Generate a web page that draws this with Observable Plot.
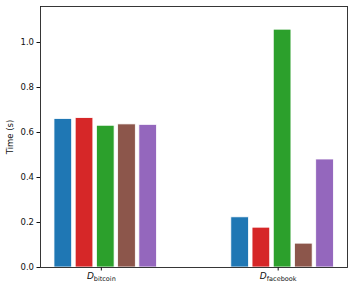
<!DOCTYPE html>
<html>
<head>
<meta charset="utf-8">
<script src="https://cdn.jsdelivr.net/npm/d3@7"></script>
<script src="https://cdn.jsdelivr.net/npm/@observablehq/plot@0.6"></script>
<style>
  html, body { margin: 0; padding: 0; background: white; }
</style>
</head>
<body>
<div id="chart"></div>
<script>
// Data
const datasets = ["bitcoin", "facebook"];
const series = ["S1", "S2", "S3", "S4", "S5"];
const bitcoinTimes = [0.660, 0.664, 0.630, 0.636, 0.634];
const facebookTimes = [0.223, 0.177, 1.057, 0.106, 0.480];
const yTicks = [0.0, 0.2, 0.4, 0.6, 0.8, 1.0];

const palette = ["#1f77b4", "#d62728", "#2ca02c", "#8c564b", "#9467bd"];
const barWidth = 0.1, barStep = 0.12, barShift = 0.025;

const valuesByDataset = [bitcoinTimes, facebookTimes];
const rows = [];
datasets.forEach((ds, g) => {
  series.forEach((s, i) => {
    const c = g + (i - 2) * barStep + barShift;
    rows.push({dataset: ds, series: s, value: valuesByDataset[g][i], x1: c - barWidth / 2, x2: c + barWidth / 2});
  });
});

const chart = Plot.plot({
  width: 354,
  height: 290,
  marginLeft: 40,
  marginRight: 7,
  marginTop: 6,
  marginBottom: 23,
  style: {fontFamily: "DejaVu Sans", fontSize: "8.5px", background: "white", color: "#111"},
  x: {domain: [-0.344, 1.392]},
  y: {domain: [0, 1.16]},
  color: {domain: series, range: palette},
  marks: [
    Plot.rectY(rows, {x1: "x1", x2: "x2", y: "value", fill: "series", stroke: "white", strokeWidth: 0.8}),
    Plot.axisY({ticks: yTicks, tickFormat: d3.format(".1f"), tickSize: 3.5, tickPadding: 3, fill: "#111", label: "Time (s)", labelAnchor: "center", labelArrow: "none", labelOffset: 34}),
    Plot.axisX({ticks: [0, 1], tickFormat: d => datasets[d], tickSize: 3.5, tickPadding: 2, fill: "#111", label: null}),
    Plot.frame({stroke: "#222", strokeWidth: 0.9})
  ]
});

document.getElementById("chart").appendChild(chart);

// Render x tick labels as italic D with subscript dataset name
d3.select(chart).selectAll('g[aria-label="x-axis tick label"] text').each(function() {
  const t = d3.select(this);
  const name = t.text();
  t.text(null).attr("fill", "#111");
  t.append("tspan").attr("font-style", "italic").attr("font-size", "9px").text("D");
  t.append("tspan").attr("font-size", "6.5px").attr("dy", "0.3em").text(name);
});
</script>
</body>
</html>
